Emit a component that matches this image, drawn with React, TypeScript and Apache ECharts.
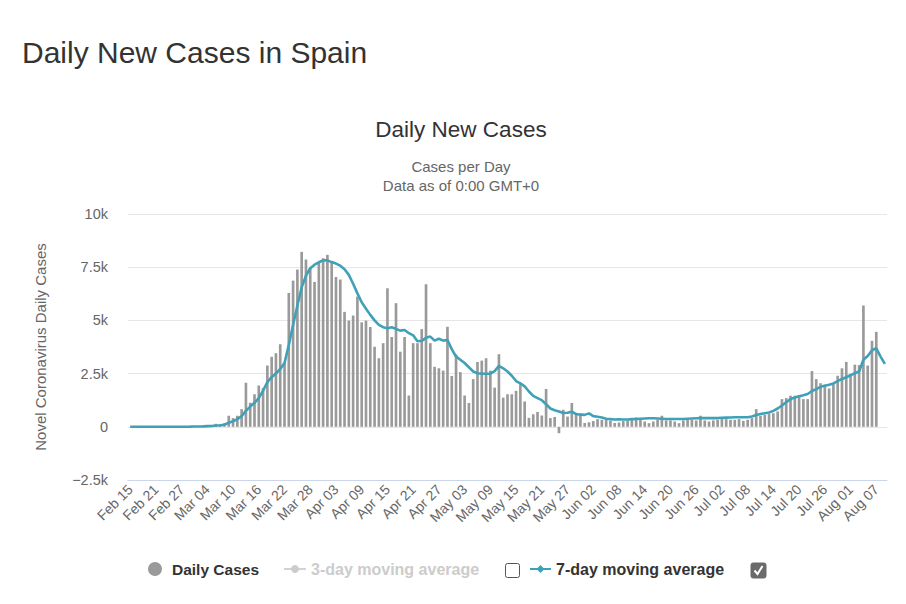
import React, { useEffect, useRef } from "react";
import * as echarts from "echarts";

// ---- categories (dates) ----
const START_DATE_UTC = Date.UTC(2020, 1, 15); // Feb 15, 2020
const DAY_COUNT = 177; // Feb 15 .. Aug 09
const MONTH_NAMES = ["Jan", "Feb", "Mar", "Apr", "May", "Jun", "Jul", "Aug", "Sep", "Oct", "Nov", "Dec"];

function buildDates(): string[] {
  const out: string[] = [];
  for (let i = 0; i < DAY_COUNT; i++) {
    const d = new Date(START_DATE_UTC + i * 86400000);
    out.push(`${MONTH_NAMES[d.getUTCMonth()]} ${String(d.getUTCDate()).padStart(2, "0")}`);
  }
  return out;
}
const dates = buildDates();

// ---- daily new cases ----
const dailyCases: number[] = [
  0, 0, 0, 0, 0, 0, 0, 0, 0, 0, // Feb 15-24
  4, 3, 2, 17, 13, 39, 36, 45, 57, 37, // Feb 25 - Mar 05
  141, 100, 173, 520, 410, 520, 830, 2070, 1130, 1530, // Mar 06-15
  1940, 1820, 2880, 3290, 3460, 3880, 3000, 6290, 6870, 7390, // Mar 16-25
  8220, 7860, 7450, 6810, 7750, 7920, 8080, 7750, 7040, 6920, // Mar 26 - Apr 04
  5400, 4990, 5230, 6120, 4910, 4990, 4690, 3760, 3220, 3930, // Apr 05-14
  6510, 4220, 5810, 3530, 4220, 1470, 3930, 3930, 4590, 6700, // Apr 15-24
  3930, 2820, 2750, 2640, 4700, 2390, 3400, 2570, 1470, 1120, // Apr 25 - May 04
  2240, 3050, 3110, 3220, 2640, 1840, 3410, 1370, 1530, 1530, // May 05-14
  1690, 2000, 1190, 420, 590, 700, 530, 1780, 410, 460, // May 15-24
  -300, 800, 480, 1120, 630, 630, 180, 210, 270, 360, // May 25 - Jun 03
  330, 320, 290, 180, 200, 270, 300, 410, 440, 330, // Jun 04-13
  250, 170, 250, 330, 520, 300, 300, 250, 170, 300, // Jun 14-23
  330, 330, 300, 520, 300, 250, 300, 330, 360, 360, // Jun 24 - Jul 03
  330, 330, 360, 280, 330, 410, 830, 520, 560, 600, // Jul 04-13
  640, 720, 1300, 1350, 1460, 1460, 1460, 1300, 1300, 2620, // Jul 14-23
  2240, 2050, 1980, 1800, 2000, 2400, 2750, 3050, 2500, 2920, // Jul 24 - Aug 02
  2900, 5700, 2880, 4040, 4460, 0, 0, // Aug 03-09
];

// ---- 7-day moving average ----
const movingAvg7: number[] = [
  0, 0, 0, 0, 0, 0, 0, 0, 0, 0,
  1, 1, 1, 4, 6, 11, 16, 22, 30, 35,
  60, 75, 100, 190, 260, 360, 500, 750, 950, 1130,
  1350, 1700, 2100, 2330, 2500, 2720, 3000, 3850, 4780, 5700,
  6550, 7100, 7450, 7620, 7730, 7820, 7820, 7740, 7670, 7570,
  7400, 7140, 6720, 6270, 5850, 5550, 5260, 5000, 4790, 4680,
  4630, 4680, 4600, 4520, 4550, 4400, 4300, 4020, 4040, 4180,
  4240, 4050, 4140, 4050, 4080, 3650, 3300, 3150, 3000, 2800,
  2600, 2520, 2500, 2490, 2500, 2620, 2860, 2750, 2600, 2400,
  2150, 2040, 1900, 1660, 1450, 1350, 1250, 1060, 860, 780,
  720, 650, 660, 710, 600, 570, 560, 630, 500, 470,
  440, 380, 360, 340, 350, 340, 340, 360, 370, 380,
  390, 400, 400, 390, 380, 370, 370, 370, 370, 370,
  380, 390, 400, 410, 410, 410, 410, 410, 420, 430,
  440, 450, 450, 450, 450, 480, 550, 600, 640, 670,
  750, 860, 1000, 1150, 1300, 1380, 1440, 1480, 1540, 1680,
  1770, 1880, 1930, 1980, 2040, 2150, 2250, 2330, 2420, 2520,
  2600, 3150, 3330, 3600, 3690, 3300, 2960,
];

const movingAvg3: number[] = []; // hidden series (legend only)

// ---- y axis ticks ----
const Y_MIN = -2500;
const Y_MAX = 10000;
const Y_STEP = 2500;
const Y_TICK_LABELS: Record<string, string> = {
  "-2500": "\u22122.5k",
  "0": "0",
  "2500": "2.5k",
  "5000": "5k",
  "7500": "7.5k",
  "10000": "10k",
};

const FONT = "'Liberation Sans', Arial, sans-serif";
const TEAL = "#3fa1b8";
const BAR_GRAY = "#9a9a9a";

export default function App() {
  const ref = useRef<HTMLDivElement>(null);

  useEffect(() => {
    if (!ref.current) return;
    const chart = echarts.init(ref.current, undefined, { renderer: "svg" });

    const option: any = {
      animation: false,
      backgroundColor: "#ffffff",
      textStyle: { fontFamily: FONT },
      grid: { left: 128, top: 214, width: 759, height: 266, containLabel: false },
      legend: [
        {
          data: ["Daily Cases"],
          left: 143,
          top: 556,
          icon: "circle",
          itemWidth: 24,
          itemHeight: 14,
          textStyle: { fontFamily: FONT, fontWeight: "bold", fontSize: 15.5, color: "#333333" },
        },
        {
          data: ["3-day moving average"],
          left: 278,
          top: 556,
          itemWidth: 22,
          itemHeight: 10,
          inactiveColor: "#cccccc",
          selected: { "3-day moving average": false },
          textStyle: { fontFamily: FONT, fontWeight: "bold", fontSize: 16, color: "#333333" },
        },
        {
          data: ["7-day moving average"],
          left: 524,
          top: 556,
          itemWidth: 21,
          itemHeight: 10,
          textStyle: { fontFamily: FONT, fontWeight: "bold", fontSize: 16, color: "#333333" },
        },
      ],
      xAxis: {
        type: "category",
        data: dates,
        boundaryGap: true,
        axisLine: { onZero: false, lineStyle: { color: "#ccd6eb", width: 1 } },
        axisTick: { show: false },
        axisLabel: {
          interval: 5,
          rotate: 45,
          margin: 7,
          color: "#666666",
          fontSize: 14,
          fontFamily: FONT,
        },
        splitLine: { show: false },
      },
      yAxis: {
        type: "value",
        min: Y_MIN,
        max: Y_MAX,
        interval: Y_STEP,
        name: "Novel Coronavirus Daily Cases",
        nameLocation: "middle",
        nameRotate: 90,
        nameGap: 80,
        nameTextStyle: { color: "#666666", fontSize: 15, fontFamily: FONT },
        axisLine: { show: false },
        axisTick: { show: false },
        axisLabel: {
          color: "#666666",
          fontSize: 14.5,
          fontFamily: FONT,
          margin: 20,
          formatter: (v: number) => Y_TICK_LABELS[String(v)] ?? String(v),
        },
        splitLine: { lineStyle: { color: "#e6e6e6", width: 1 } },
      },
      series: [
        {
          name: "Daily Cases",
          type: "bar",
          data: dailyCases,
          barWidth: "62%",
          itemStyle: { color: BAR_GRAY },
          z: 2,
        },
        {
          name: "3-day moving average",
          type: "line",
          data: movingAvg3,
          symbol: "circle",
          symbolSize: 8,
          itemStyle: { color: "#cccccc" },
          lineStyle: { color: "#cccccc", width: 2 },
        },
        {
          name: "7-day moving average",
          type: "line",
          data: movingAvg7,
          showSymbol: false,
          symbol: "diamond",
          symbolSize: 9,
          itemStyle: { color: TEAL },
          lineStyle: { color: TEAL, width: 2.6 },
          z: 3,
        },
      ],
      graphic: [
        {
          type: "text",
          left: 22,
          top: 37,
          style: { text: "Daily New Cases in Spain", fontSize: 30, fontFamily: FONT, fill: "#333333" },
        },
        {
          type: "text",
          x: 461,
          y: 129,
          style: {
            text: "Daily New Cases",
            fontSize: 22.5,
            fontFamily: FONT,
            fill: "#333333",
            align: "center",
            verticalAlign: "middle",
          },
        },
        {
          type: "text",
          x: 461,
          y: 166,
          style: {
            text: "Cases per Day",
            fontSize: 15,
            fontFamily: FONT,
            fill: "#666666",
            align: "center",
            verticalAlign: "middle",
          },
        },
        {
          type: "text",
          x: 461,
          y: 185,
          style: {
            text: "Data as of 0:00 GMT+0",
            fontSize: 15,
            fontFamily: FONT,
            fill: "#666666",
            align: "center",
            verticalAlign: "middle",
          },
        },
        {
          type: "rect",
          shape: { x: 505.5, y: 563.5, width: 14, height: 14, r: 2 },
          style: { fill: "#ffffff", stroke: "#555555", lineWidth: 1 },
        },
        {
          type: "rect",
          shape: { x: 751, y: 563, width: 15, height: 15, r: 2 },
          style: { fill: "#6b6b6b", stroke: "#6b6b6b", lineWidth: 1 },
        },
        {
          type: "polyline",
          shape: { points: [[754.5, 570.5], [757.5, 574], [762.5, 566]] },
          style: { stroke: "#ffffff", lineWidth: 2, fill: "none" },
        },
      ],
    };

    chart.setOption(option);
    return () => chart.dispose();
  }, []);

  return (
    <div
      ref={ref}
      style={{ position: "fixed", left: 0, top: 0, width: 906, height: 604, background: "#fff" }}
    />
  );
}
